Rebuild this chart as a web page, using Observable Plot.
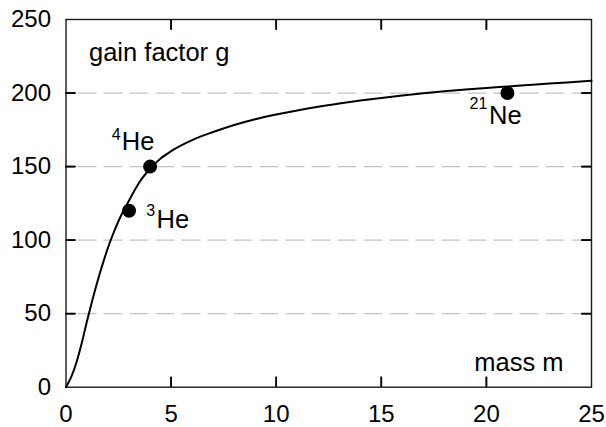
<!DOCTYPE html>
<html><head><meta charset="utf-8">
<script src="https://cdn.jsdelivr.net/npm/d3@7"></script>
<script src="https://cdn.jsdelivr.net/npm/@observablehq/plot@0.6"></script>
<style>html,body{margin:0;background:#fff;overflow:hidden;} svg{display:block;}</style>
</head><body><div id="chart"></div>
<script>
// gain-factor curve
const curveMass = [0, 0.25, 0.5, 0.75, 1, 1.25, 1.5, 1.75, 2, 2.25, 2.5, 2.75, 3, 3.5, 4, 4.5, 5, 6, 7, 8, 9, 10, 11, 12, 13, 14, 15, 16, 17, 18, 19, 20, 21, 22, 23, 24, 25];
const curveGain = [0, 7, 17, 30, 45, 59, 72, 84, 95, 104.5, 113, 120.5, 127, 139.5, 148.5, 155.5, 160.5, 168, 173.5, 178.3, 182.2, 185.4, 188.2, 190.7, 192.9, 194.9, 196.7, 198.3, 199.8, 201.2, 202.4, 203.5, 204.5, 205.5, 206.5, 207.4, 208.3];
// isotopes
const isoMass = [3, 4, 21];
const isoGain = [120, 150, 200];
const isoNumber = ["3", "4", "21"];
const isoSymbol = ["He", "He", "Ne"];
// ticks
const xTicks = [0, 5, 10, 15, 20, 25];
const yTicks = [0, 50, 100, 150, 200, 250];
const innerXTicks = [5, 10, 15, 20];
const innerYTicks = [50, 100, 150, 200];
const gridValues = [50, 100, 150, 200];
const yLabel = "gain factor g";
const xLabel = "mass m";

const curve = curveMass.map((m, i) => ({m, g: curveGain[i]}));
const iso = isoMass.map((m, i) => ({m, g: isoGain[i], n: isoNumber[i], s: isoSymbol[i]}));

const font = "Liberation Sans, Arial, Helvetica, sans-serif";
const big = 25.5, small = 16;

const W = 606, H = 427, mL = 65.5, mR = 15, mT = 19, mB = 40.3;
const innerW = W - mL - mR, innerH = H - mT - mB;
const tickLen = 10;
const tickStyle = {stroke: "#000", strokeWidth: 1.6};

function isoLabel(i, sx, sy, nx, ny) {
  return [
    Plot.text([iso[i]], {x: "m", y: "g", text: "s", textAnchor: "start", lineAnchor: "bottom", dx: sx, dy: sy, fontSize: big, fill: "#000"}),
    Plot.text([iso[i]], {x: "m", y: "g", text: "n", textAnchor: "end", lineAnchor: "bottom", dx: nx, dy: ny, fontSize: small, fill: "#000"})
  ];
}

const chart = Plot.plot({
  width: W,
  height: H,
  marginLeft: mL,
  marginRight: mR,
  marginTop: mT,
  marginBottom: mB,
  style: {fontFamily: font, fontSize: "24px", background: "#fff", color: "#000"},
  x: {domain: [0, 25]},
  y: {domain: [0, 250]},
  marks: [
    Plot.gridY(gridValues, {stroke: "#c4c4c4", strokeOpacity: 1, strokeWidth: 1.3, strokeDasharray: "19,7", strokeDashoffset: -12}),
    Plot.axisX(xTicks, {anchor: "bottom", tickSize: 0, tickPadding: 18, fontSize: 24, label: null}),
    Plot.axisY(yTicks, {anchor: "left", tickSize: 0, tickPadding: 15, fontSize: 24, label: null}),
    // inward ticks drawn through the axis marks
    Plot.axisX(innerXTicks, {anchor: "bottom", tickSize: tickLen, dy: -tickLen, tickFormat: () => "", label: null, ...tickStyle}),
    Plot.axisX(innerXTicks, {anchor: "top", tickSize: tickLen, dy: tickLen, tickFormat: () => "", label: null, ...tickStyle}),
    Plot.axisY(innerYTicks, {anchor: "left", tickSize: tickLen, dx: tickLen, tickFormat: () => "", label: null, ...tickStyle}),
    Plot.axisY(innerYTicks, {anchor: "right", tickSize: tickLen, dx: -tickLen, tickFormat: () => "", label: null, ...tickStyle}),
    Plot.frame({stroke: "#1a1a1a", strokeWidth: 1.4}),
    Plot.line(curve, {x: "m", y: "g", curve: "monotone-x", stroke: "#000", strokeWidth: 2}),
    Plot.dot(iso, {x: "m", y: "g", r: 7, fill: "#000", stroke: "none"}),
    ...isoLabel(0, 27.5, 17, 26, 4.8),
    ...isoLabel(1, -28.3, -17, -29.3, -26.5),
    ...isoLabel(2, -18.4, 31, -20, 15.6),
    Plot.text([yLabel], {text: d => d, frameAnchor: "top-left", textAnchor: "start", lineAnchor: "bottom", dx: 23, dy: 41.5, fontSize: big, fill: "#000"}),
    Plot.text([xLabel], {text: d => d, frameAnchor: "bottom-right", textAnchor: "end", lineAnchor: "bottom", dx: -28, dy: -16.7, fontSize: big, fill: "#000"}),
    // inward ticks drawn as short rules
    Plot.ruleX(innerXTicks, {x: d => d, insetTop: innerH - tickLen, ...tickStyle}),
    Plot.ruleX(innerXTicks, {x: d => d, insetBottom: innerH - tickLen, ...tickStyle}),
    Plot.ruleY(innerYTicks, {y: d => d, insetRight: innerW - tickLen, ...tickStyle}),
    Plot.ruleY(innerYTicks, {y: d => d, insetLeft: innerW - tickLen, ...tickStyle})
  ]
});
document.getElementById("chart").appendChild(chart);
</script>
</body></html>
